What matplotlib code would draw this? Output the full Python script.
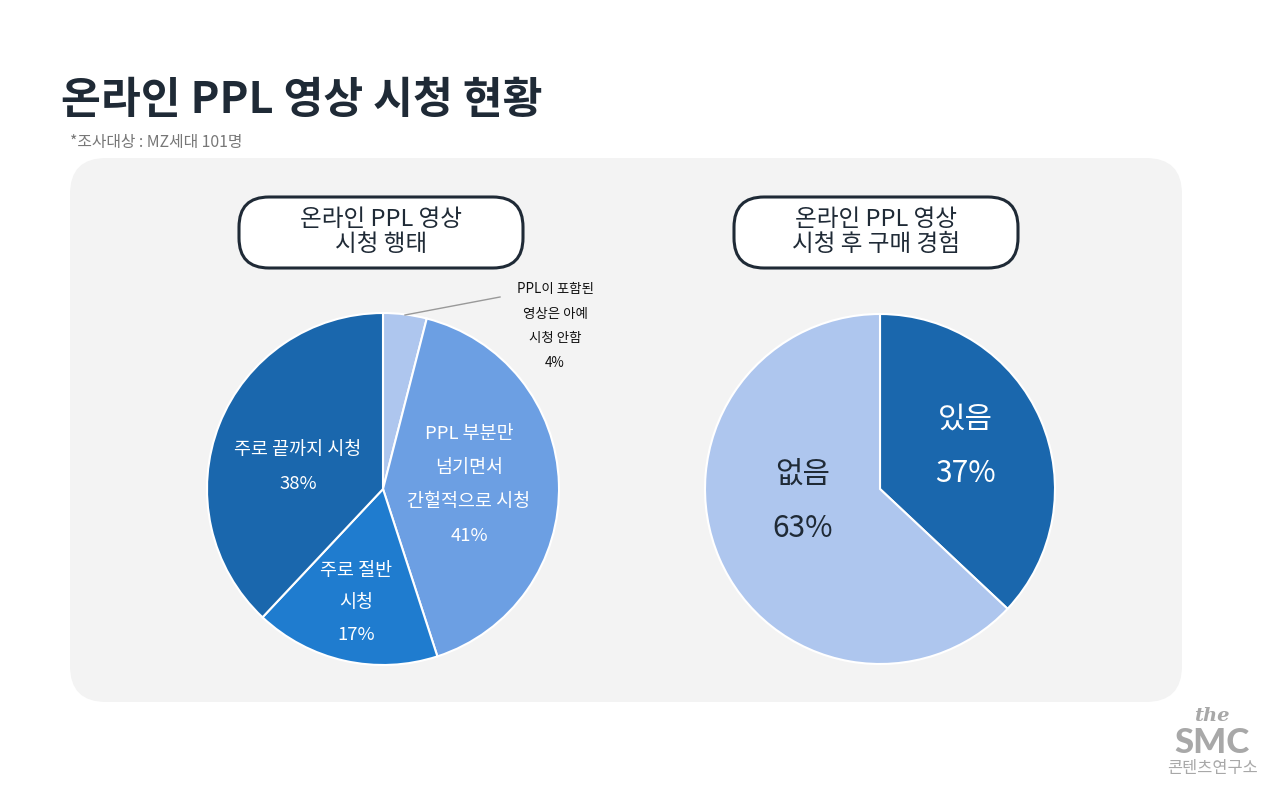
import matplotlib
matplotlib.use('Agg')
import matplotlib.pyplot as plt
from matplotlib.patches import FancyBboxPatch

plt.rcParams['font.family'] = ['Noto Sans CJK KR', 'DejaVu Sans']

# 데이터
left_labels = ['PPL이 포함된\n영상은 아예\n시청 안함', 'PPL 부분만\n넘기면서\n간헐적으로 시청', '주로 절반\n시청', '주로 끝까지 시청']
left_values = [4, 41, 17, 38]
left_colors = ['#aec6ee', '#6c9fe3', '#1f7ccf', '#1a67ad']

right_labels = ['있음', '없음']
right_values = [37, 63]
right_colors = ['#1a67ad', '#aec6ee']

W, H = 1280, 793
fig = plt.figure(figsize=(12.8, 7.93), dpi=100)
ax = fig.add_axes([0, 0, 1, 1])
ax.set_xlim(0, W)
ax.set_ylim(0, H)
ax.set_aspect('equal')
ax.axis('off')


def Y(y):
    return H - y


# 회색 배경 패널
panel = FancyBboxPatch((70, Y(702)), 1112, 544, boxstyle='round,pad=0,rounding_size=36',
                       fc='#f3f3f3', ec='none', zorder=0)
ax.add_patch(panel)

# 제목
ax.text(61, Y(100), '온라인 PPL 영상 시청 현황', fontsize=31.2, fontweight='black',
        color='#1f2a36', va='center', ha='left')
ax.text(70, Y(142), '*조사대상 : MZ세대 101명', fontsize=11.4, color='#777777',
        va='center', ha='left')

# 소제목 박스
for cx, txt in [(381, '온라인 PPL 영상\n시청 행태'), (876, '온라인 PPL 영상\n시청 후 구매 경험')]:
    box = FancyBboxPatch((cx - 142, Y(268)), 284, 71, boxstyle='round,pad=0,rounding_size=30',
                         fc='white', ec='#1f2a36', lw=2.2, zorder=2)
    ax.add_patch(box)
    ax.text(cx, Y(232), txt, fontsize=17, color='#1f2a36', ha='center', va='center',
            linespacing=1.15, zorder=3)

# 왼쪽 파이
ax.pie(left_values, colors=left_colors, startangle=90, counterclock=False,
       center=(383, Y(489)), radius=176, frame=True,
       wedgeprops=dict(edgecolor='white', linewidth=1.5))


def pct_lines(label, v):
    return label + '\n' + f'{v}%'


# 라벨
ax.text(298, Y(467), pct_lines(left_labels[3], left_values[3]), color='white', fontsize=13.3,
        fontweight='medium', ha='center', va='center', linespacing=2.1)
ax.text(469, Y(485), pct_lines(left_labels[1], left_values[1]), color='white', fontsize=13.3,
        fontweight='medium', ha='center', va='center', linespacing=2.15)
ax.text(356, Y(603), pct_lines(left_labels[2], left_values[2]), color='white', fontsize=13.3,
        fontweight='medium', ha='center', va='center', linespacing=2.0)
ax.text(555, Y(326), pct_lines(left_labels[0], left_values[0]), color='#111111', fontsize=9.7,
        fontweight='medium', ha='center', va='center', linespacing=1.98)
ax.plot([405, 500], [Y(315), Y(297)], color='#999999', lw=1)

# 오른쪽 파이
ax.pie(right_values, colors=right_colors, startangle=90, counterclock=False,
       center=(880, Y(489)), radius=175, frame=True,
       wedgeprops=dict(edgecolor='white', linewidth=1.5))

ax.text(965, Y(446), right_labels[0] + '\n' + f'{right_values[0]}%', color='white', fontsize=21.5,
        fontweight='medium', ha='center', va='center', linespacing=1.97)
ax.text(803, Y(501), right_labels[1] + '\n' + f'{right_values[1]}%', color='#1f2a36', fontsize=21.5,
        fontweight='medium', ha='center', va='center', linespacing=1.97)

ax.set_xlim(0, W)
ax.set_ylim(0, H)
ax.axis('off')

# 로고
ax.text(1212, Y(716), 'the', fontsize=14, fontstyle='italic', fontweight='bold',
        family=['DejaVu Serif'], color='#a8a8a8', ha='center', va='center')
ax.text(1212, Y(743), 'SMC', fontsize=25, fontweight='black', family=['Lato', 'DejaVu Sans'],
        color='#a8a8a8', ha='center', va='center')
ax.text(1212, Y(768), '콘텐츠연구소', fontsize=11.8, fontweight='medium', color='#a8a8a8',
        ha='center', va='center')

plt.savefig('out.png', dpi=100, facecolor='white')
plt.close()
